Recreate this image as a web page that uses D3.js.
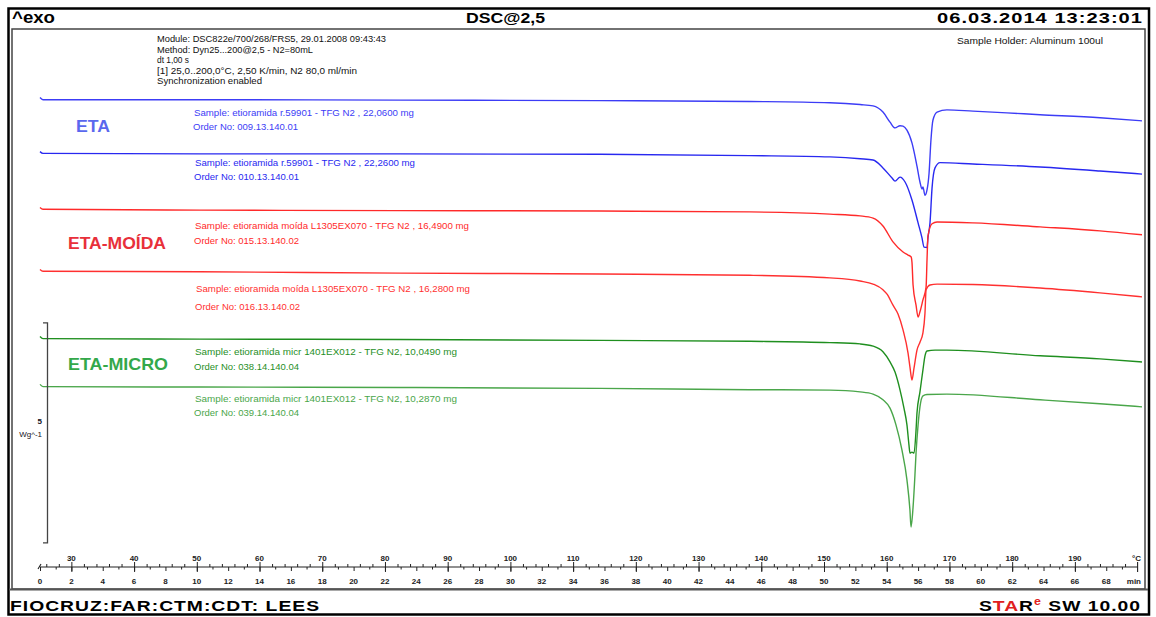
<!DOCTYPE html>
<html>
<head>
<meta charset="utf-8">
<script src="https://cdn.jsdelivr.net/npm/d3@7"></script>
<style>
  body { margin: 0; background: #fff; }
  svg { display: block; }
  text { font-family: "Liberation Sans", Arial, sans-serif; }
</style>
</head>
<body>
<svg id="chart" width="1156" height="617"></svg>
<script>
// DSC curves: [time (min), heat flow (W/g, with display offset)]
const eta1 = [[0,11.17],[0.19,11.12],[10.2,11.12],[22.96,11.11],[35.71,11.10],[45.28,11.08],[50.38,11.05],[52.3,11.01],[53.13,10.98],[53.76,10.84],[54.21,10.61],[54.53,10.48],[54.85,10.53],[55.04,10.52],[55.29,10.43],[55.61,10.14],[55.93,9.61],[56.12,9.25],[56.25,9.09],[56.31,9.14],[56.44,8.95],[56.57,9.07],[56.7,9.45],[56.82,10.2],[56.95,10.66],[57.21,10.84],[57.84,10.89],[59.5,10.86],[61.67,10.82],[63.78,10.78],[67.6,10.71],[70.28,10.64]];
const eta2 = [[0,9.94],[0.19,9.90],[10.2,9.89],[22.96,9.89],[35.71,9.88],[45.28,9.85],[50.38,9.82],[52.3,9.78],[53.13,9.75],[53.76,9.57],[54.34,9.34],[54.53,9.27],[54.85,9.36],[55.17,9.25],[55.61,8.84],[56.0,8.32],[56.25,7.98],[56.38,7.77],[56.57,7.76],[56.63,7.98],[56.76,8.32],[56.89,9.11],[57.08,9.57],[57.4,9.69],[59.5,9.66],[63.78,9.59],[67.6,9.5],[70.28,9.43]];
const moida1 = [[0,8.67],[0.19,8.63],[10.2,8.61],[22.96,8.60],[35.71,8.59],[45.28,8.57],[50.38,8.52],[52.3,8.48],[53.13,8.43],[53.76,8.25],[54.4,7.89],[55.04,7.66],[55.36,7.59],[55.55,7.55],[55.61,7.43],[55.68,6.91],[55.87,6.45],[56.0,6.18],[56.12,6.30],[56.31,6.57],[56.51,6.86],[56.57,7.48],[56.63,8.02],[56.89,8.30],[57.21,8.34],[59.5,8.32],[63.78,8.23],[67.6,8.14],[70.28,8.05]];
const moida2 = [[0,7.26],[0.19,7.22],[10.2,7.21],[22.96,7.18],[35.71,7.16],[45.28,7.13],[50.38,7.07],[52.3,7.0],[53.13,6.93],[53.76,6.80],[54.02,6.70],[54.4,6.45],[54.72,6.25],[55.04,5.89],[55.36,5.36],[55.48,5.05],[55.61,4.75],[55.74,5.02],[55.93,5.43],[56.12,5.61],[56.31,5.82],[56.44,6.27],[56.51,6.80],[56.76,6.91],[57.21,6.93],[59.5,6.92],[63.78,6.84],[67.6,6.73],[70.28,6.64]];
const micro1 = [[0,5.74],[0.19,5.69],[10.2,5.68],[22.96,5.67],[35.71,5.65],[45.28,5.63],[50.38,5.60],[52.3,5.57],[53.13,5.52],[53.76,5.39],[54.21,5.16],[54.53,4.93],[54.85,4.52],[55.1,4.11],[55.29,3.73],[55.42,3.27],[55.48,3.09],[55.61,3.11],[55.74,3.09],[55.87,3.61],[55.93,4.0],[56.12,4.48],[56.31,4.98],[56.44,5.30],[56.57,5.41],[57.08,5.43],[57.84,5.43],[63.78,5.30],[67.6,5.23],[70.28,5.16]];
const micro2 = [[0,4.65],[0.19,4.60],[10.2,4.59],[22.96,4.58],[35.71,4.56],[45.28,4.53],[50.38,4.52],[52.3,4.48],[53.13,4.43],[53.76,4.30],[54.21,4.11],[54.59,3.73],[54.97,3.16],[55.29,2.48],[55.48,1.80],[55.55,1.41],[55.68,1.86],[55.8,2.59],[55.87,3.09],[56.0,3.73],[56.12,4.14],[56.31,4.39],[56.57,4.42],[57.84,4.43],[63.78,4.30],[67.6,4.21],[70.28,4.14]];

const curves = [eta1, eta2, moida1, moida2, micro1, micro2];
const curveColors = ["#3c3cf6", "#2828f0", "#ff2a2a", "#ff3030", "#1f8f1f", "#4aa64a"];

// Sample annotations
const sampleLines = [
  "Sample: etioramida r.59901 - TFG N2 , 22,0600 mg",
  "Sample: etioramida r.59901 - TFG N2 , 22,2600 mg",
  "Sample: etioramida moída L1305EX070 - TFG N2 , 16,4900 mg",
  "Sample: etioramida moída L1305EX070 - TFG N2 , 16,2800 mg",
  "Sample: etioramida micr 1401EX012 - TFG N2, 10,0490 mg",
  "Sample: etioramida micr 1401EX012 - TFG N2, 10,2870 mg"
];
const orderLines = [
  "Order No: 009.13.140.01", "Order No: 010.13.140.01",
  "Order No: 015.13.140.02", "Order No: 016.13.140.02",
  "Order No: 038.14.140.04", "Order No: 039.14.140.04"
];
const groupNames = ["ETA", "ETA-MOÍDA", "ETA-MICRO"];
const groupColors = ["#5a68ee", "#e8303a", "#33a84a"];

const methodLines = [
  "Module: DSC822e/700/268/FRS5, 29.01.2008 09:43:43",
  "Method: Dyn25...200@2,5 - N2=80mL",
  "dt 1,00 s",
  "[1] 25,0..200,0°C, 2,50 K/min, N2 80,0 ml/min",
  "Synchronization enabled"
];

// Axis ticks
const minTicks = d3.range(0, 69, 2);
const tempTicks = d3.range(30, 191, 10);
const scaleBar = { top: 6.05, value: 5, unit: "Wg^-1" };

const svg = d3.select("#chart");

// time axis: 0..70 min, heating 25 °C + 2.5 K/min
const x = d3.scaleLinear().domain([0, 70]).range([40, 1137.6]);
const xT = d3.scaleLinear().domain([25, 200]).range([40, 1137.6]);
const y = d3.scaleLinear().domain([0, 5]).range([589, 369]);

// frames
svg.append("rect").attr("x", 8.5).attr("y", 8.5).attr("width", 1140.5).attr("height", 606)
  .attr("fill", "none").attr("stroke", "#000").attr("stroke-width", 2.5);
svg.append("rect").attr("x", 12).attr("y", 29).attr("width", 1133).attr("height", 560)
  .attr("fill", "none").attr("stroke", "#444").attr("stroke-width", 1.5);
svg.append("line").attr("x1", 9).attr("x2", 1148).attr("y1", 589.5).attr("y2", 589.5)
  .attr("stroke", "#555").attr("stroke-width", 2);

// header
svg.append("text").attr("x", 12).attr("y", 23).attr("font-size", 17).attr("font-weight", "bold")
  .attr("textLength", 43).attr("lengthAdjust", "spacingAndGlyphs").text("^exo");
svg.append("text").attr("x", 466).attr("y", 23).attr("font-size", 15.5).attr("font-weight", "bold")
  .attr("textLength", 79).attr("lengthAdjust", "spacingAndGlyphs").text("DSC@2,5");
svg.append("text").attr("x", 937).attr("y", 23).attr("font-size", 15.5).attr("font-weight", "bold")
  .attr("textLength", 206).attr("lengthAdjust", "spacingAndGlyphs").attr("letter-spacing", 0.8)
  .text("06.03.2014 13:23:01");

// footer
svg.append("text").attr("x", 10).attr("y", 611).attr("font-size", 15.5).attr("font-weight", "bold")
  .attr("textLength", 310).attr("lengthAdjust", "spacingAndGlyphs").attr("letter-spacing", 0.8)
  .text("FIOCRUZ:FAR:CTM:CDT: LEES");
const star = svg.append("text").attr("x", 979).attr("y", 611).attr("font-size", 15.5)
  .attr("font-weight", "bold").attr("letter-spacing", 0.8)
  .attr("textLength", 162).attr("lengthAdjust", "spacingAndGlyphs");
star.append("tspan").attr("fill", "#000").text("S");
star.append("tspan").attr("fill", "#e02020").text("TA");
star.append("tspan").attr("fill", "#000").text("R");
star.append("tspan").attr("fill", "#e02020").attr("font-size", 10).attr("dy", -6).text("e");
star.append("tspan").attr("fill", "#000").attr("dy", 6).text(" SW 10.00");

// method info
const infoWidths = [229, 156, 32, 200, 105];
methodLines.forEach((s, i) => {
  svg.append("text").attr("x", 157).attr("y", 42 + i * 10.6).attr("font-size", 9)
    .attr("textLength", infoWidths[i]).attr("lengthAdjust", "spacingAndGlyphs")
    .attr("fill", "#111").text(s);
});
svg.append("text").attr("x", 957).attr("y", 44).attr("font-size", 9).attr("fill", "#111")
  .attr("textLength", 146).attr("lengthAdjust", "spacingAndGlyphs")
  .text("Sample Holder: Aluminum 100ul");

// curves
const line = d3.line().x(d => x(d[0])).y(d => y(d[1])).curve(d3.curveMonotoneX);
curves.forEach((c, i) => {
  svg.append("path").datum(c).attr("d", line).attr("fill", "none")
    .attr("stroke", curveColors[i]).attr("stroke-width", 1.4).attr("stroke-linejoin", "round");
});

// sample annotations
const sampleY = [113, 163, 226, 289, 352, 399];
const orderY = [127, 177, 241, 307, 367, 413];
const sampleW = [220, 220, 274, 274, 262, 262];
const sampleX = [194, 195, 195, 196, 195, 195];
sampleLines.forEach((s, i) => {
  const col = curveColors[i];
  svg.append("text").attr("x", sampleX[i]).attr("y", sampleY[i]).attr("dy", "0.35em")
    .attr("font-size", 9.5).attr("fill", col)
    .attr("textLength", sampleW[i]).attr("lengthAdjust", "spacingAndGlyphs").text(s);
  svg.append("text").attr("x", sampleX[i] - 1).attr("y", orderY[i]).attr("dy", "0.35em")
    .attr("font-size", 9.5).attr("fill", col)
    .attr("textLength", 105).attr("lengthAdjust", "spacingAndGlyphs").text(orderLines[i]);
});

// group labels
const groupX = [76, 68, 68];
const groupY = [126, 243, 364];
const groupW = [34, 98, 100];
groupNames.forEach((g, i) => {
  svg.append("text").attr("x", groupX[i]).attr("y", groupY[i]).attr("dy", "0.35em")
    .attr("font-size", 17).attr("font-weight", "bold").attr("fill", groupColors[i])
    .attr("textLength", groupW[i]).attr("lengthAdjust", "spacingAndGlyphs").text(g);
});

// scale bar
const sbTop = y(scaleBar.top), sbBot = y(scaleBar.top - scaleBar.value);
const sb = svg.append("g").attr("stroke", "#444").attr("stroke-width", 1.3).attr("fill", "none");
sb.append("path").attr("d", `M43,${sbTop}H47.5V${sbBot}H43`);
svg.append("text").attr("x", 42).attr("y", (sbTop + sbBot) / 2 - 9).attr("text-anchor", "end")
  .attr("font-size", 8).attr("font-weight", "bold").attr("fill", "#112").text(scaleBar.value);
svg.append("text").attr("x", 42).attr("y", (sbTop + sbBot) / 2 + 4).attr("text-anchor", "end")
  .attr("font-size", 8).attr("fill", "#112").text(scaleBar.unit);

// bottom axes
const axisY = 567;
const gAx = svg.append("g");
gAx.append("line").attr("x1", x(0)).attr("x2", x(70)).attr("y1", axisY).attr("y2", axisY)
  .attr("stroke", "#222").attr("stroke-width", 1.2);
// minute ticks below the line
const minAxis = d3.axisBottom(x).tickValues(d3.range(0, 70, 1)).tickSize(3).tickFormat("");
gAx.append("g").attr("transform", `translate(0,${axisY})`).call(minAxis)
  .call(g => g.select(".domain").remove())
  .call(g => g.selectAll("line").attr("stroke", "#222").attr("y2", d => d % 2 === 0 ? 4 : 2.5));
// temperature ticks above the line
const tAxis = d3.axisTop(xT).tickValues(d3.range(26, 200, 2)).tickSize(3).tickFormat("");
gAx.append("g").attr("transform", `translate(0,${axisY})`).call(tAxis)
  .call(g => g.select(".domain").remove())
  .call(g => g.selectAll("line").attr("stroke", "#222")
    .attr("y2", d => d % 10 === 0 ? -5 : -3)
    .attr("y1", d => d % 10 === 0 ? 5 : 0));
// labels
gAx.selectAll(".tl").data(tempTicks).join("text").attr("class", "tl")
  .attr("x", d => xT(d)).attr("y", 561).attr("text-anchor", "middle")
  .attr("font-size", 8).attr("font-weight", "bold").attr("fill", "#222").text(d => d);
gAx.selectAll(".ml").data(minTicks).join("text").attr("class", "ml")
  .attr("x", d => x(d)).attr("y", 584).attr("text-anchor", "middle")
  .attr("font-size", 8).attr("font-weight", "bold").attr("fill", "#222").text(d => d);
gAx.append("text").attr("x", 1141).attr("y", 561).attr("text-anchor", "end")
  .attr("font-size", 8).attr("font-weight", "bold").attr("fill", "#222").text("°C");
gAx.append("text").attr("x", 1141).attr("y", 584).attr("text-anchor", "end")
  .attr("font-size", 8).attr("font-weight", "bold").attr("fill", "#222").text("min");
gAx.append("path").attr("d", `M${x(70)},${axisY - 5}V${axisY + 5}M${x(0) - 2},${axisY + 2}L${x(0) + 1},${axisY - 3}`)
  .attr("stroke", "#222").attr("stroke-width", 1.1).attr("fill", "none");
</script>
</body>
</html>
